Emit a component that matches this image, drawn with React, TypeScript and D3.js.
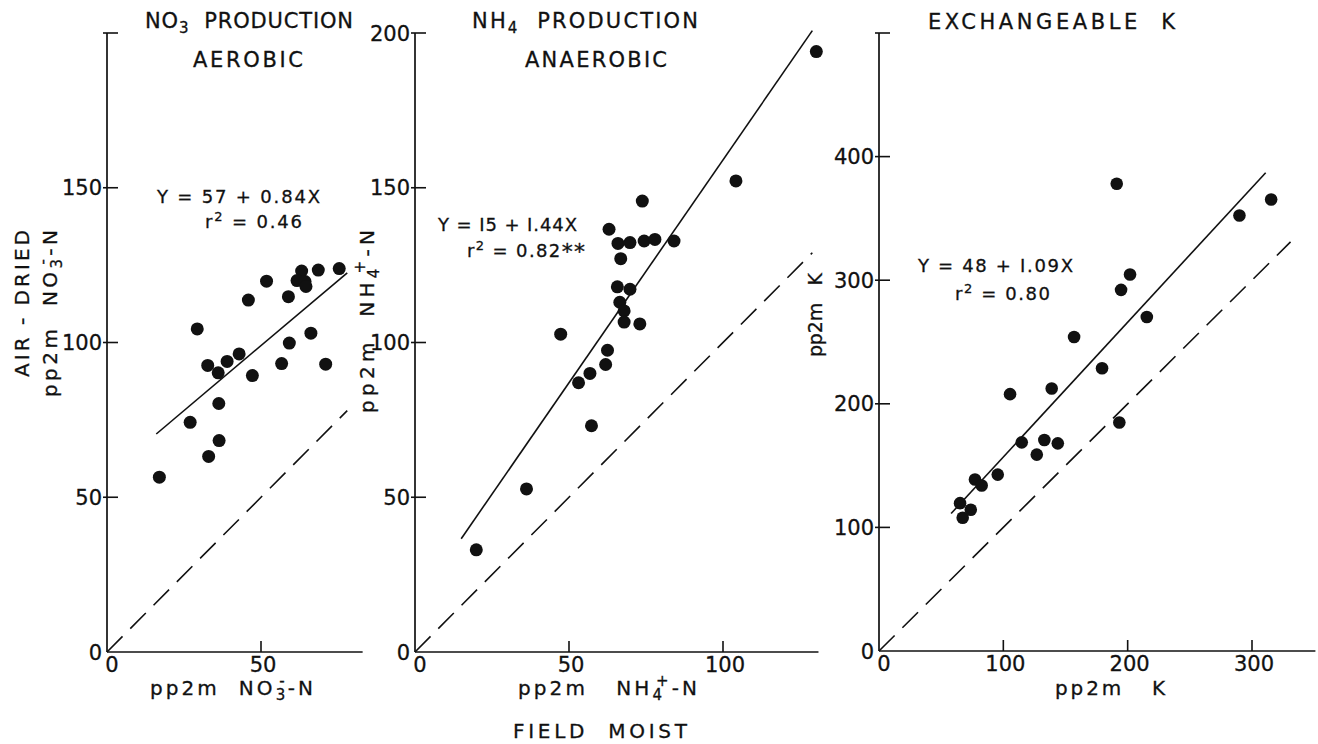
import React from 'react';
import * as d3 from 'd3';

// ---------- DATA ----------
// Panel 1: NO3 production, aerobic (x = field moist, y = air-dried)
const no3X = [17, 27, 29.3, 32.7, 33, 36.1, 36.3, 36.4, 39, 42.9, 47.2, 56.7, 59.2, 66.2, 71, 45.9, 51.8, 58.9, 63.2, 61.7, 64.3, 64.6, 68.6, 75.4];
const no3Y = [56.5, 74.2, 104.4, 92.6, 63.2, 90.2, 80.3, 68.3, 93.9, 96.3, 89.3, 93.2, 99.8, 103, 93, 113.7, 119.8, 114.8, 123.1, 120, 119.7, 118.1, 123.4, 123.9];
// Panel 2: NH4 production, anaerobic
const nh4X = [19.9, 36.2, 47.3, 53.1, 56.8, 57.3, 61.9, 62.5, 63, 65.9, 69.8, 74.4, 77.9, 84.1, 66.8, 65.7, 69.8, 66.5, 67.9, 67.9, 73, 73.8, 104.2, 130.3];
const nh4Y = [33, 52.7, 102.7, 87, 90, 73.1, 92.9, 97.5, 136.6, 132, 132.3, 132.8, 133.3, 132.8, 127.1, 118, 117.2, 113, 110.2, 106.6, 106, 145.7, 152.2, 194];
// Panel 3: exchangeable K
const kX = [65.2, 67.3, 73.8, 77.2, 82.6, 95.5, 105.4, 114.8, 126.9, 133, 138.9, 143.8, 156.9, 179.4, 191.2, 193.3, 194.7, 201.9, 215.4, 289.9, 315.4];
const kY = [119.6, 107.8, 114.3, 138.7, 133.9, 142.7, 207.8, 168.8, 158.9, 170.7, 212.4, 168, 254, 228.8, 378, 184.9, 292.2, 304.6, 270.2, 352.4, 365.3];

// regression intercepts / slopes and fitted x-extent
const fitA = [57, 15, 48];
const fitB = [0.84, 1.44, 1.09];
const fitFrom = [16, 15, 58];
const fitTo = [78, 129, 311];
// 1:1 line extent
const oneToOneTo = [78, 129, 331];

// axis extents and ticks
const xAxisMax = [83, 131, 351];
const yAxisMax = [200, 200, 500];
const xTicks1 = [50];
const xTicks2 = [50, 100];
const xTicks3 = [100, 200, 300];
const yTicks1 = [50, 100, 150, 200];
const yTicks2 = [50, 100, 150, 200];
const yTicks3 = [100, 200, 300, 400, 500];
const yLabels1 = [0, 50, 100, 150];
const yLabels2 = [0, 50, 100, 150, 200];
const yLabels3 = [0, 100, 200, 300, 400];
const xLabels1 = [0, 50];
const xLabels2 = [0, 50, 100];
const xLabels3 = [0, 100, 200, 300];

const FONT = "'DejaVu Sans', 'Liberation Sans', sans-serif";
const INK = '#111';
const S = '\u00A0';

type PanelProps = {
  xs: number[];
  ys: number[];
  x: d3.ScaleLinear<number, number>;
  y: d3.ScaleLinear<number, number>;
  i: number;
  xTicks: number[];
  yTicks: number[];
  xLabels: number[];
  yLabels: number[];
  r: number;
};

function Panel({ xs, ys, x, y, i, xTicks, yTicks, xLabels, yLabels, r }: PanelProps) {
  const x0 = x(0);
  const y0 = y(0);
  const line = d3.line<number>().x((d) => x(d)).y((d) => y(fitA[i] + fitB[i] * d));
  const idLine = d3.line<number>().x((d) => x(d)).y((d) => y(d));
  return (
    <g>
      <line x1={x0} y1={y0} x2={x0} y2={y(yAxisMax[i])} stroke={INK} strokeWidth={1.7} />
      <line x1={x0} y1={y0} x2={x(xAxisMax[i])} y2={y0} stroke={INK} strokeWidth={1.7} />
      {yTicks.map((t) => (
        <line key={'yt' + t} x1={x0 - 4} x2={x0 + 11} y1={y(t)} y2={y(t)} stroke={INK} strokeWidth={1.6} />
      ))}
      {xTicks.map((t) => (
        <line key={'xt' + t} x1={x(t)} x2={x(t)} y1={y0} y2={y0 - 11} stroke={INK} strokeWidth={1.6} />
      ))}
      {yLabels.map((t) => (
        <text key={'yl' + t} x={x0 - 5} y={y(t)} dy="0.36em" textAnchor="end" fontSize={21} fontFamily={FONT} fill={INK} stroke={INK} strokeWidth={0.3}>
          {t}
        </text>
      ))}
      {xLabels.map((t) => (
        <text key={'xl' + t} x={t === 0 ? x(t) + 5 : x(t) + 2} y={y0 + 20} textAnchor="middle" fontSize={21} fontFamily={FONT} fill={INK} stroke={INK} strokeWidth={0.3}>
          {t}
        </text>
      ))}
      <path d={idLine([0, oneToOneTo[i]]) || ''} stroke={INK} strokeWidth={1.6} strokeDasharray="22,11" fill="none" />
      <path d={line([fitFrom[i], fitTo[i]]) || ''} stroke={INK} strokeWidth={1.6} fill="none" />
      {xs.map((v, k) => (
        <circle key={k} cx={x(v)} cy={y(ys[k])} r={r} fill={INK} />
      ))}
    </g>
  );
}

export default function App() {
  const x1 = d3.scaleLinear().domain([0, 50]).range([107, 261]);
  const y1 = d3.scaleLinear().domain([0, 200]).range([652, 33]);
  const x2 = d3.scaleLinear().domain([0, 100]).range([415, 723]);
  const y2 = d3.scaleLinear().domain([0, 200]).range([652, 33]);
  const x3 = d3.scaleLinear().domain([0, 300]).range([879, 1252]);
  const y3 = d3.scaleLinear().domain([0, 500]).range([651, 33]);

  const T = { fontFamily: FONT, fill: INK, stroke: INK, strokeWidth: 0.3, lengthAdjust: 'spacing' } as const;

  return (
    <svg width={1318} height={744} style={{ position: 'absolute', left: 0, top: 0, background: '#fff' }}>
      <rect width={1318} height={744} fill="#fff" />
      <Panel xs={no3X} ys={no3Y} x={x1} y={y1} i={0} xTicks={xTicks1} yTicks={yTicks1} xLabels={xLabels1} yLabels={yLabels1} r={6.5} />
      <Panel xs={nh4X} ys={nh4Y} x={x2} y={y2} i={1} xTicks={xTicks2} yTicks={yTicks2} xLabels={xLabels2} yLabels={yLabels2} r={6.5} />
      <Panel xs={kX} ys={kY} x={x3} y={y3} i={2} xTicks={xTicks3} yTicks={yTicks3} xLabels={xLabels3} yLabels={yLabels3} r={6.3} />

      {/* Titles */}
      <text x={145} y={28} fontSize={21} {...T} textLength={208}>
        NO<tspan dy={5} fontSize={15}>3</tspan><tspan dy={-5}>{S + S + 'PRODUCTION'}</tspan>
      </text>
      <text x={193} y={67} fontSize={21} {...T} textLength={110}>AEROBIC</text>
      <text x={472} y={28} fontSize={21} {...T} textLength={226}>
        NH<tspan dy={5} fontSize={15}>4</tspan><tspan dy={-5}>{S + S + 'PRODUCTION'}</tspan>
      </text>
      <text x={525} y={67} fontSize={21} {...T} textLength={142}>ANAEROBIC</text>
      <text x={928} y={29} fontSize={21} {...T} textLength={247}>{'EXCHANGEABLE' + S + S + 'K'}</text>

      {/* Equations */}
      <text x={157} y={203} fontSize={18} {...T} textLength={163}>{'Y' + S + '=' + S + '57' + S + '+' + S + '0.84X'}</text>
      <text x={205} y={228} fontSize={18} {...T} textLength={97}>
        r<tspan dy={-7} fontSize={13}>2</tspan><tspan dy={7}>{S + '=' + S + '0.46'}</tspan>
      </text>
      <text x={438} y={231} fontSize={18} {...T} textLength={139}>{'Y' + S + '=' + S + 'I5' + S + '+' + S + 'I.44X'}</text>
      <text x={467} y={257} fontSize={18} {...T} textLength={118}>
        r<tspan dy={-7} fontSize={13}>2</tspan><tspan dy={7}>{S + '=' + S + '0.82'}</tspan><tspan fontSize={22} dy={2}>**</tspan>
      </text>
      <text x={918} y={272} fontSize={18} {...T} textLength={155}>{'Y' + S + '=' + S + '48' + S + '+' + S + 'I.09X'}</text>
      <text x={955} y={300} fontSize={18} {...T} textLength={95}>
        r<tspan dy={-7} fontSize={13}>2</tspan><tspan dy={7}>{S + '=' + S + '0.80'}</tspan>
      </text>

      {/* Y axis labels */}
      <text transform="translate(29,377) rotate(-90)" fontSize={20} {...T} textLength={147}>{'AIR' + S + '-' + S + 'DRIED'}</text>
      <text transform="translate(57,397) rotate(-90)" fontSize={20} {...T} textLength={167}>
        {'pp2m' + S + S + 'NO'}<tspan dy={5} fontSize={15}>3</tspan><tspan dx={-9} dy={-14} fontSize={15}>-</tspan><tspan dy={9}>-N</tspan>
      </text>
      <text transform="translate(374,413) rotate(-90)" fontSize={20} {...T} textLength={183}>
        {'pp2m' + S + S + 'NH'}<tspan dy={5} fontSize={15}>4</tspan><tspan dx={-9} dy={-14} fontSize={15}>+</tspan><tspan dy={9}>-N</tspan>
      </text>
      <text transform="translate(822,357) rotate(-90)" fontSize={19} {...T} textLength={84}>{'pp2m' + S + S + S + 'K'}</text>

      {/* X axis labels */}
      <text x={150} y={695} fontSize={20} {...T} textLength={163}>
        {'pp2m' + S + S + 'NO'}<tspan dy={5} fontSize={15}>3</tspan><tspan dx={-9} dy={-14} fontSize={15}>-</tspan><tspan dy={9}>-N</tspan>
      </text>
      <text x={518} y={695} fontSize={20} {...T} textLength={179}>
        {'pp2m' + S + S + S + 'NH'}<tspan dy={5} fontSize={15}>4</tspan><tspan dx={-9} dy={-14} fontSize={15}>+</tspan><tspan dy={9}>-N</tspan>
      </text>
      <text x={513} y={738} fontSize={20} {...T} textLength={174}>{'FIELD' + S + S + 'MOIST'}</text>
      <text x={1055} y={695} fontSize={20} {...T} textLength={110}>{'pp2m' + S + S + S + 'K'}</text>
    </svg>
  );
}
